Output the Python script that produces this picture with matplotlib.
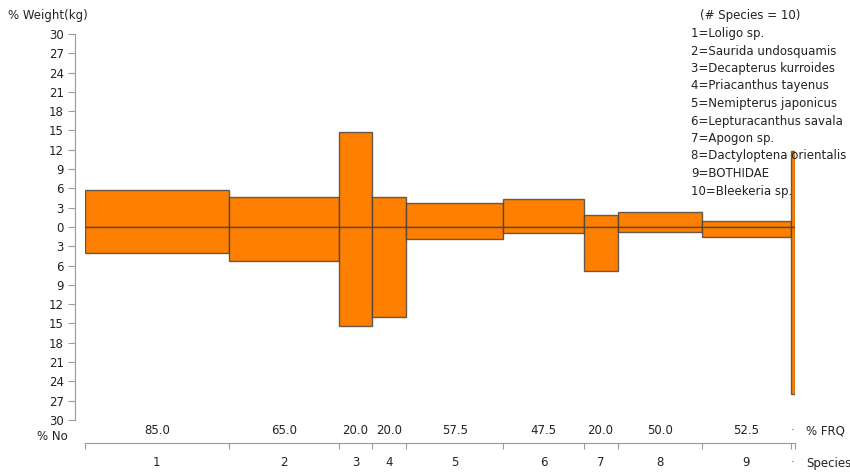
import numpy as np
import matplotlib
matplotlib.use("Agg")
import matplotlib.pyplot as plt

species = ["1", "2", "3", "4", "5", "6", "7", "8", "9", "10"]
names = ["Loligo sp.", "Saurida undosquamis", "Decapterus kurroides",
         "Priacanthus tayenus", "Nemipterus japonicus", "Lepturacanthus savala",
         "Apogon sp.", "Dactyloptena orientalis", "BOTHIDAE", "Bleekeria sp."]
frq = [85.0, 65.0, 20.0, 20.0, 57.5, 47.5, 20.0, 50.0, 52.5, 2.5]
weight = [5.7, 4.7, 14.7, 4.7, 3.7, 4.4, 1.8, 2.3, 0.9, 11.8]
number = [4.1, 5.3, 15.4, 14.0, 1.8, 1.0, 6.8, 0.8, 1.6, 25.9]
yticks = [-30, -27, -24, -21, -18, -15, -12, -9, -6, -3, 0,
          3, 6, 9, 12, 15, 18, 21, 24, 27, 30]

W, H = 850, 474
px = 72 / 100  # points per pixel
fig = plt.figure(figsize=(8.5, 4.74), dpi=100)
ax = fig.add_axes([85 / W, 1 - 420 / H, 710 / W, 386 / H])

orange = "#ff8000"
edge = (0.25, 0.25, 0.25, 0.8)
left = np.concatenate([[0], np.cumsum(frq)[:-1]])
ax.bar(left, weight, width=frq, align="edge", color=orange, edgecolor=edge, lw=1)
ax.bar(left, [-v for v in number], width=frq, align="edge", color=orange, edgecolor=edge, lw=1)

total = sum(frq)
ax.set_xlim(0, total)
ax.set_ylim(-30, 30)

gray = "#9a9a9a"
for s in ["top", "right"]:
    ax.spines[s].set_visible(False)
ax.spines["left"].set_position(("outward", 10 * px))
ax.spines["left"].set_color(gray)
ax.spines["bottom"].set_position(("outward", 23 * px))
ax.spines["bottom"].set_color(gray)

ax.set_yticks(yticks)
ax.set_yticklabels([str(abs(t)) for t in yticks])
ax.tick_params(axis="y", color=gray, length=7 * px, labelsize=8.5, labelcolor="#222222", pad=4 * px)

bounds = np.concatenate([[0], np.cumsum(frq)])
ax.set_xticks(bounds)
ax.set_xticklabels([])
ax.tick_params(axis="x", color=gray, length=6 * px, direction="out")

centers = left + np.array(frq) / 2
tr = ax.get_xaxis_transform()
for c, f, sp in zip(centers[:-1], frq[:-1], species[:-1]):
    ax.text(c, -0.027, f"{f:.1f}", transform=tr, ha="center", va="center",
            fontsize=8.5, color="#222222", clip_on=False)
    ax.text(c, -0.11, sp, transform=tr, ha="center", va="center",
            fontsize=8.5, color="#222222", clip_on=False)
ax.text(centers[-1], -0.027, "·", transform=tr, ha="center", va="center",
        fontsize=8, color="#444444", clip_on=False)
ax.text(centers[-1], -0.11, "·", transform=tr, ha="center", va="center",
        fontsize=8, color="#444444", clip_on=False)

fig.text(8 / W, 1 - 16 / H, "% Weight(kg)", fontsize=8.5, color="#222222", va="center")
fig.text(68 / W, 1 - 437 / H, "% No", fontsize=8.5, color="#222222", va="center", ha="right")
fig.text(806 / W, 1 - 431 / H, "% FRQ", fontsize=8.5, color="#222222", va="center")
fig.text(806 / W, 1 - 463 / H, "Species", fontsize=8.5, color="#222222", va="center")

fig.text(700 / W, 1 - 16 / H, "(# Species = 10)", fontsize=8.5, color="#222222", va="center")
for i, (s, n) in enumerate(zip(species, names)):
    fig.text(691 / W, 1 - (33.5 + 17.5 * i) / H, f"{s}={n}", fontsize=8.5,
             color="#222222", va="center")

fig.savefig("out.png", dpi=100)
